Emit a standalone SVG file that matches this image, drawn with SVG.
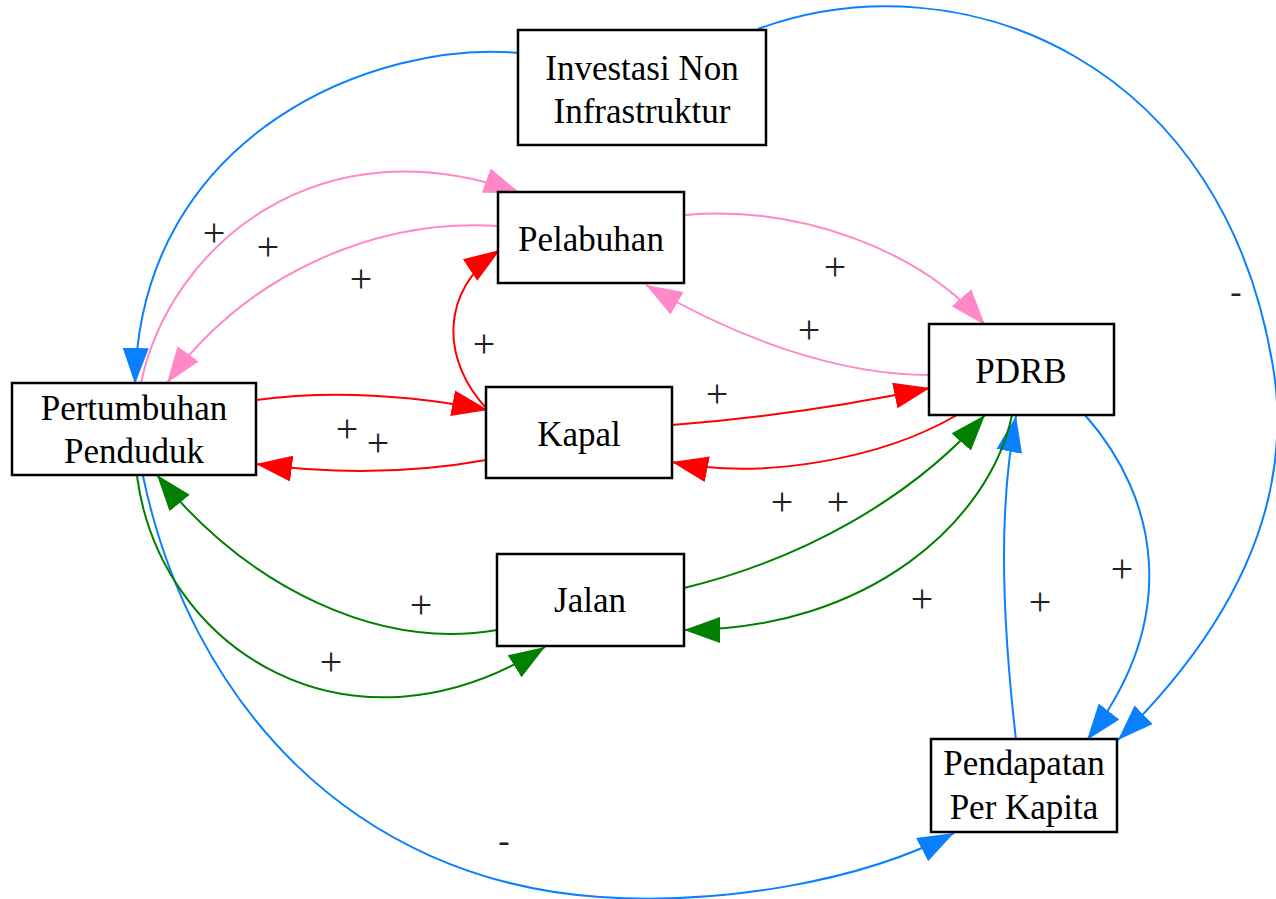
<svg xmlns="http://www.w3.org/2000/svg" width="1276" height="899" viewBox="0 0 1276 899">
<style>
.node rect{fill:#fff;stroke:#000;stroke-width:2.5}
.node text{font-family:"Liberation Serif","Times New Roman",serif;font-size:35px;fill:#000;text-anchor:middle}
.lbl{font-family:"Liberation Serif","Times New Roman",serif;font-size:40px;fill:#222;text-anchor:middle}
.dash{font-size:34px}
.e{fill:none;stroke-width:2}
.blue{stroke:#0a80ff;marker-end:url(#ab)}
.pink{stroke:#ff88c8;marker-end:url(#ap)}
.red{stroke:#ff0000;marker-end:url(#ar)}
.green{stroke:#007f00;marker-end:url(#ag)}
</style>
<defs>
<marker id="ab" markerUnits="userSpaceOnUse" markerWidth="36" markerHeight="28" viewBox="0 0 36 28" refX="36" refY="14" orient="auto"><path d="M0,1 L36,14 L0,27 z" fill="#0a80ff"/></marker>
<marker id="ap" markerUnits="userSpaceOnUse" markerWidth="36" markerHeight="28" viewBox="0 0 36 28" refX="36" refY="14" orient="auto"><path d="M0,1 L36,14 L0,27 z" fill="#ff88c8"/></marker>
<marker id="ar" markerUnits="userSpaceOnUse" markerWidth="36" markerHeight="28" viewBox="0 0 36 28" refX="36" refY="14" orient="auto"><path d="M0,1 L36,14 L0,27 z" fill="#ff0000"/></marker>
<marker id="ag" markerUnits="userSpaceOnUse" markerWidth="36" markerHeight="28" viewBox="0 0 36 28" refX="36" refY="14" orient="auto"><path d="M0,1 L36,14 L0,27 z" fill="#007f00"/></marker>
</defs>
<rect width="1276" height="899" fill="#fff"/>
<g id="connectors">
<path class="e blue" d="M518,53 C380,40 140,130 135,384"/>
<path class="e blue" d="M758,29 C960,-45 1230,60 1275,380 C1292,520 1220,640 1118,740"/>
<path class="e blue" d="M143,476 C190,700 350,880 600,897 C720,905 860,882 954,833"/>
<path class="e blue" d="M1016,740 C1000,600 1000,500 1016,416"/>
<path class="e blue" d="M1085,415 C1160,500 1180,620 1087,740"/>
<path class="e pink" d="M141,383 C170,245 320,120 520,193"/>
<path class="e pink" d="M498,226 C375,218 245,275 167,383"/>
<path class="e pink" d="M685,215 C800,205 920,250 985,325"/>
<path class="e pink" d="M929,375 C840,375 740,340 646,285"/>
<path class="e red" d="M488,410 C440,360 440,290 500,250"/>
<path class="e red" d="M256,400 C330,390 410,395 488,410"/>
<path class="e red" d="M486,460 C420,472 340,475 256,464"/>
<path class="e red" d="M672,425 C760,418 850,405 930,388"/>
<path class="e red" d="M957,415 C880,460 760,480 672,462"/>
<path class="e green" d="M497,630 C380,650 250,590 157,475"/>
<path class="e green" d="M137,476 C160,650 350,770 545,647"/>
<path class="e green" d="M684,588 C800,560 910,500 985,415"/>
<path class="e green" d="M1012,415 C990,520 870,630 684,630"/>
</g>
<g id="labels">
<text class="lbl" x="214" y="246">+</text>
<text class="lbl" x="268" y="260">+</text>
<text class="lbl" x="361" y="292">+</text>
<text class="lbl" x="484" y="357">+</text>
<text class="lbl" x="835" y="280">+</text>
<text class="lbl" x="809" y="343">+</text>
<text class="lbl" x="717" y="407">+</text>
<text class="lbl" x="347" y="442">+</text>
<text class="lbl" x="378" y="456">+</text>
<text class="lbl" x="782" y="515">+</text>
<text class="lbl" x="838" y="515">+</text>
<text class="lbl" x="922" y="612">+</text>
<text class="lbl" x="1040" y="615">+</text>
<text class="lbl" x="1122" y="582">+</text>
<text class="lbl" x="421" y="618">+</text>
<text class="lbl" x="331" y="675">+</text>
<text class="lbl dash" x="1236" y="303">-</text>
<text class="lbl dash" x="504" y="852">-</text>
</g>
<g id="investasi" class="node"><rect x="518" y="30" width="248" height="115"/><text x="642" y="80">Investasi Non</text><text x="642" y="123">Infrastruktur</text></g>
<g id="pelabuhan" class="node"><rect x="498" y="192" width="186" height="91"/><text x="591" y="251">Pelabuhan</text></g>
<g id="pdrb" class="node"><rect x="929" y="324" width="185" height="91"/><text x="1021" y="383">PDRB</text></g>
<g id="kapal" class="node"><rect x="486" y="387" width="186" height="91"/><text x="579" y="446">Kapal</text></g>
<g id="pertumbuhan" class="node"><rect x="12" y="383" width="244" height="92"/><text x="134" y="420">Pertumbuhan</text><text x="134" y="463">Penduduk</text></g>
<g id="jalan" class="node"><rect x="497" y="554" width="187" height="92"/><text x="590" y="612">Jalan</text></g>
<g id="pendapatan" class="node"><rect x="931" y="739" width="186" height="93"/><text x="1024" y="775">Pendapatan</text><text x="1024" y="819">Per Kapita</text></g>
</svg>
